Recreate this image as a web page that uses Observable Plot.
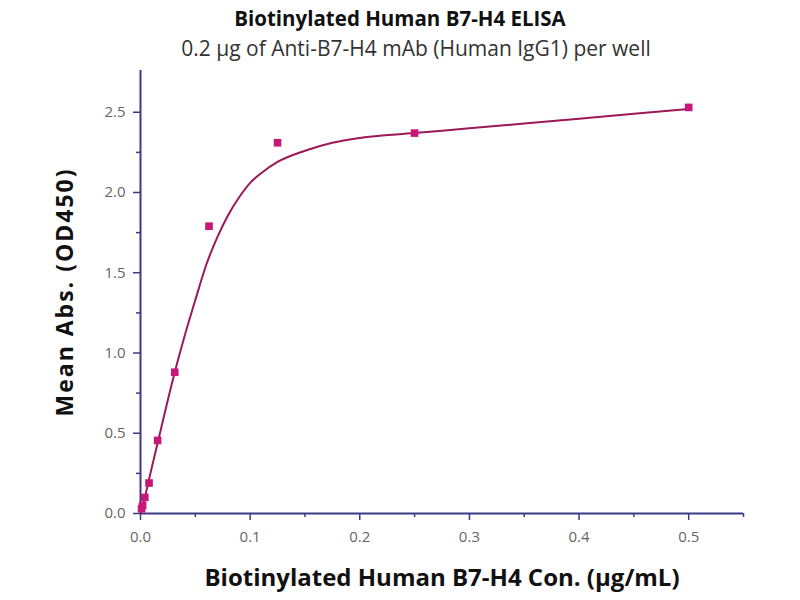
<!DOCTYPE html>
<html>
<head>
<meta charset="utf-8">
<script src="https://cdn.jsdelivr.net/npm/d3@7"></script>
<script src="https://cdn.jsdelivr.net/npm/@observablehq/plot@0.6"></script>
<style>
  body { margin: 0; background: #fff; font-family: "Open Sans", sans-serif; }
  #wrap { width: 800px; }
  #head { height: 65px; position: relative; }
  #title { position: absolute; top: 4px; left: 0; width: 800px; text-align: center; font-weight: bold; font-size: 20.5px; line-height: 28px; color: #111; }
  #sub { position: absolute; top: 34px; left: 16px; width: 800px; text-align: center; font-size: 21px; line-height: 28px; color: #333; }
</style>
</head>
<body>
<div id="wrap">
  <div id="head">
    <div id="title">Biotinylated Human B7-H4 ELISA</div>
    <div id="sub">0.2 μg of Anti-B7-H4 mAb (Human IgG1) per well</div>
  </div>
  <div id="chart"></div>
</div>
<script>
// measured points
const concentration = [0.5, 0.25, 0.125, 0.0625, 0.03125, 0.015625, 0.0078125, 0.00390625, 0.001953, 0.000977];
const absorbance    = [2.53, 2.37, 2.31, 1.79, 0.88, 0.455, 0.19, 0.10, 0.05, 0.03];
// fitted curve
const curveX = [0, 0.004, 0.008, 0.016, 0.024, 0.032, 0.04, 0.05, 0.06, 0.07, 0.08, 0.09, 0.1, 0.11, 0.125, 0.15, 0.175, 0.2, 0.25, 0.3, 0.35, 0.4, 0.45, 0.5];
const curveY = [0, 0.1, 0.22, 0.45, 0.68, 0.9, 1.1, 1.33, 1.55, 1.72, 1.86, 1.97, 2.06, 2.12, 2.19, 2.26, 2.31, 2.34, 2.37, 2.40, 2.43, 2.46, 2.49, 2.52];
const xMajor = [0, 0.1, 0.2, 0.3, 0.4, 0.5];
const xMinor = [0.05, 0.15, 0.25, 0.35, 0.45, 0.55];
const yMajor = [0, 0.5, 1.0, 1.5, 2.0, 2.5];
const yMinor = [0.25, 0.75, 1.25, 1.75, 2.25];

const points = concentration.map((c, i) => ({x: c, y: absorbance[i]}));
const curve = curveX.map((c, i) => ({x: c, y: curveY[i]}));

const axisColor = "#3a3a88";
const chart = Plot.plot({
  width: 800,
  height: 535,
  marginLeft: 140,
  marginRight: 57,
  marginTop: 5,
  marginBottom: 87,
  style: {fontFamily: "Open Sans, sans-serif", background: "#fff"},
  x: {domain: [0, 0.55]},
  y: {domain: [0, 2.76]},
  marks: [
    Plot.axisX({ticks: xMajor, tickFormat: d3.format(".1f"), tickSize: 7, tickPadding: 11, stroke: axisColor, strokeWidth: 1.5, fill: "#666", fontSize: 15, label: null}),
    Plot.axisX({ticks: xMinor, tickSize: 4, text: null, stroke: axisColor, strokeWidth: 1.5, label: null}),
    Plot.axisX({ticks: [], label: "Biotinylated Human B7-H4 Con. (μg/mL)", labelAnchor: "center", labelArrow: "none", labelOffset: 72, fontSize: 24, fontWeight: "bold", fill: "#111"}),
    Plot.axisY({ticks: yMajor, tickFormat: d3.format(".1f"), tickSize: 7, tickPadding: 8, stroke: axisColor, strokeWidth: 1.5, fill: "#666", fontSize: 15, label: null}),
    Plot.axisY({ticks: yMinor, tickSize: 4, text: null, stroke: axisColor, strokeWidth: 1.5, label: null}),
    Plot.axisY({ticks: [], label: "Mean Abs. (OD450)", labelAnchor: "center", labelArrow: "none", labelOffset: 84, fontSize: 23, fontWeight: "bold", fill: "#111"}),
    Plot.ruleX([0], {stroke: axisColor, strokeWidth: 2}),
    Plot.ruleY([0], {stroke: axisColor, strokeWidth: 2}),
    Plot.line(curve, {x: "x", y: "y", curve: "monotone-x", stroke: "#9c1858", strokeWidth: 2}),
    Plot.dot(points, {x: "x", y: "y", symbol: "square", r: 4.3, fill: "#c8177a", stroke: "none"})
  ]
});
document.getElementById("chart").appendChild(chart);
// stretch the rotated y label a little (reference is vertically stretched)
d3.select(chart).selectAll("text").filter(function() { return this.textContent === "Mean Abs. (OD450)"; })
  .style("letter-spacing", "2px");
</script>
</body>
</html>
